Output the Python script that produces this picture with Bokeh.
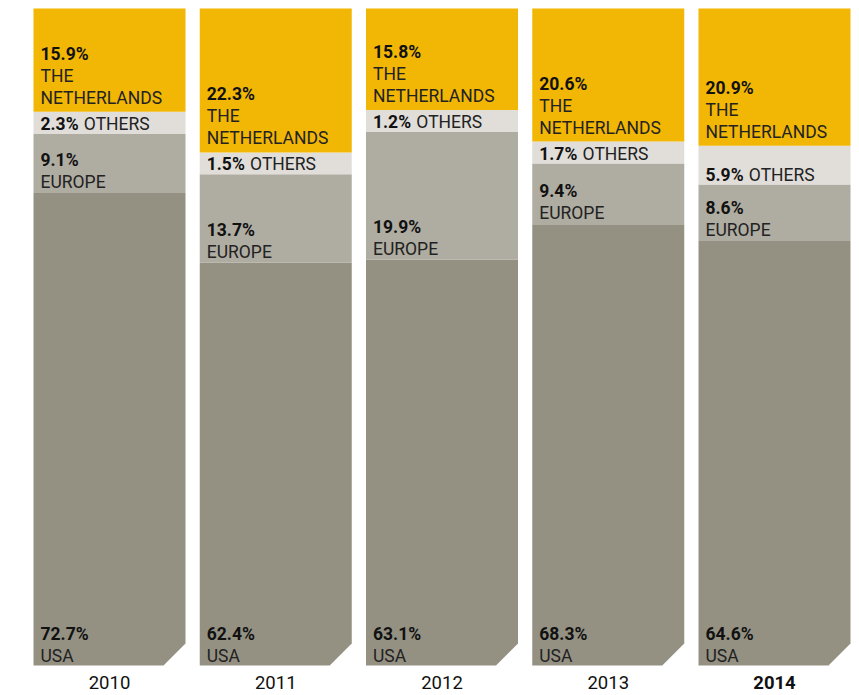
from bokeh.plotting import figure
from bokeh.models import Range1d, ColumnDataSource
from bokeh.core.properties import value
from bokeh.embed import file_html
from bokeh.resources import INLINE

# ---- data ----
years = ["2010", "2011", "2012", "2013", "2014"]
usa = [72.7, 62.4, 63.1, 68.3, 64.6]
europe = [9.1, 13.7, 19.9, 9.4, 8.6]
others = [2.3, 1.5, 1.2, 1.7, 5.9]
netherlands = [15.9, 22.3, 15.8, 20.6, 20.9]
highlight_year = "2014"

series_names = ["USA", "EUROPE", "OTHERS", "THE\nNETHERLANDS"]
colors = ["#949183", "#AFACA1", "#E1DEDA", "#F2B705"]

# ---- layout constants ----
W, H = 859, 695
PX_X = 166.25          # pixels per bar slot
PX_Y = 6.57            # pixels per percent
BAR_W = 152 / PX_X
CUT = 22               # px cut corner
MIN_SEG = 3.4          # minimum displayed height for thin segments
FONT = "Roboto"
FS = "17.5px"
PADS = [10, 11, 10, 14]  # label baseline distance above segment bottom (px)

x_start = -109 / PX_X
p = figure(width=W, height=H,
           x_range=Range1d(x_start, x_start + W / PX_X),
           y_range=Range1d(-(H - 665) / PX_Y, 100 + 8 / PX_Y),
           output_backend="svg", toolbar_location=None,
           x_axis_location=None, y_axis_location=None,
           min_border=0, background_fill_color="white")
p.grid.visible = False
p.outline_line_color = None


def bold_width(s, size=17.5):
    w = 0
    for ch in s:
        if ch.isdigit():
            w += 0.562
        elif ch == ".":
            w += 0.27
        elif ch == "%":
            w += 0.74
        else:
            w += 0.6
    return w * size


pct_x, pct_y, pct_t = [], [], []
nm_x, nm_y, nm_t, nm_off = [], [], [], []

quad_l, quad_r, quad_b, quad_t, quad_c = [], [], [], [], []
patch_xs, patch_ys = [], []

for i, yr in enumerate(years):
    vals = [usa[i], europe[i], others[i], netherlands[i]]
    disp = [max(v, MIN_SEG) for v in vals]
    tot = sum(disp)
    disp = [d * 100.0 / tot for d in disp]
    left = i - BAR_W / 2
    right = i + BAR_W / 2
    bottom = 0.0
    for k, (v, d) in enumerate(zip(vals, disp)):
        top = bottom + d if k < 3 else 100.0
        if k == 0:
            cx = CUT / PX_X
            cy = CUT / PX_Y
            patch_xs.append([left, right - cx, right, right, left])
            patch_ys.append([bottom, bottom, bottom + cy, top, top])
        else:
            quad_l.append(left); quad_r.append(right)
            quad_b.append(bottom); quad_t.append(top); quad_c.append(colors[k])
        # labels: bottom aligned
        tx = left + 7 / PX_X
        base = bottom + PADS[k] / PX_Y
        pct = f"{v:.1f}%"
        if k == 2:
            pct_x.append(tx); pct_y.append(base); pct_t.append(pct)
            nm_x.append(tx); nm_y.append(base); nm_t.append(series_names[k])
            nm_off.append(bold_width(pct) + 6)
        else:
            lines = series_names[k].split("\n")
            for j, ln in enumerate(reversed(lines)):
                nm_x.append(tx); nm_y.append(base + j * 22 / PX_Y)
                nm_t.append(ln); nm_off.append(0)
            pct_x.append(tx); pct_y.append(base + len(lines) * 22 / PX_Y)
            pct_t.append(pct)
        bottom = top

p.patches(xs=patch_xs, ys=patch_ys, fill_color=colors[0], line_color=None)
p.quad(left=quad_l, right=quad_r, bottom=quad_b, top=quad_t,
       fill_color=quad_c, line_color=None)

p.text(x=pct_x, y=pct_y, text=pct_t, text_font=value(FONT),
       text_font_size=FS, text_font_style="bold", text_color="#111111",
       text_baseline="alphabetic", text_align="left")
p.text(source=ColumnDataSource(dict(x=nm_x, y=nm_y, text=nm_t, off=nm_off)),
       x="x", y="y", text="text", x_offset="off", text_font=value(FONT),
       text_font_size=FS, text_color="#222222",
       text_baseline="alphabetic", text_align="left")

yr_style = ["bold" if y == highlight_year else "normal" for y in years]
p.text(source=ColumnDataSource(dict(x=list(range(len(years))),
                                    y=[-16.5 / PX_Y] * len(years),
                                    text=years, style=yr_style)),
       x="x", y="y", text="text", text_font=value(FONT),
       text_font_size="18.5px", text_font_style="style", text_color="#111111",
       text_baseline="middle", text_align="center")

open("out.html", "w").write(file_html(p, INLINE))
